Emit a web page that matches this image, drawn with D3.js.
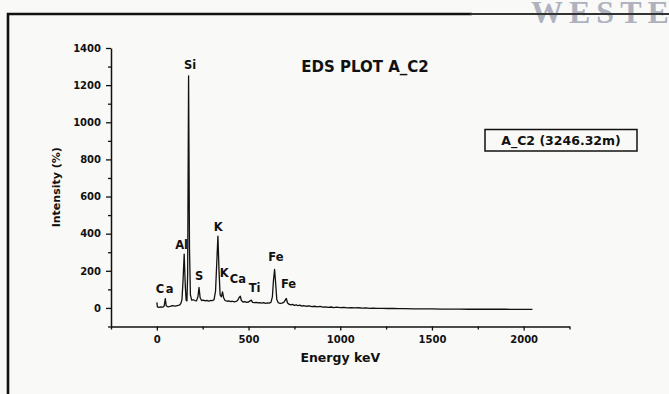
<!DOCTYPE html>
<html>
<head>
<meta charset="utf-8">
<script src="https://cdn.jsdelivr.net/npm/d3@7"></script>
<style>
  body { margin: 0; background: #f9f9f7; overflow: hidden; }
  text { font-family: "DejaVu Sans", sans-serif; font-weight: bold; fill: #111; }
</style>
</head>
<body>
<div id="chart"></div>
<script>
// Spectrum (channel / keV, intensity)
const energy = [0, 3, 12, 22, 32, 40, 46, 51, 60, 72, 85, 100, 112, 122, 130, 137, 143, 149, 155, 160,
  164, 168, 173, 178, 183, 190, 198, 208, 216, 224, 230, 236, 244, 254, 263, 272, 282, 292, 302, 312,
  320, 327, 333, 339, 345, 352, 358, 364, 372, 382, 392, 402, 412, 422, 432, 440, 448, 455, 461, 470,
  480, 490, 500, 508, 515, 522, 532, 542, 552, 562, 572, 582, 592, 602, 612, 622, 630, 636, 642, 648,
  654, 662, 672, 682, 692, 700, 706, 712, 720, 730, 740, 750, 760, 770, 780, 790, 800, 815, 830, 845,
  860, 875, 890, 905, 920, 935, 950, 965, 980, 1000, 1020, 1040, 1060, 1080, 1100, 1120, 1140, 1160, 1180, 1200,
  1230, 1260, 1290, 1320, 1350, 1400, 1450, 1500, 1550, 1600, 1650, 1700, 1750, 1800, 1850, 1900, 1950, 2000, 2048];
const intensity = [30, 6, 3, 5, 4, 10, 50, 12, 6, 8, 12, 10, 13, 15, 22, 45, 150, 290, 120, 40,
  38, 180, 1250, 320, 70, 42, 44, 40, 38, 60, 110, 55, 40, 42, 38, 41, 37, 40, 39, 45,
  90, 250, 387, 200, 70, 60, 86, 55, 40, 36, 38, 34, 36, 33, 35, 40, 55, 63, 40, 32,
  34, 30, 32, 38, 42, 30, 28, 30, 27, 29, 26, 28, 25, 27, 26, 30, 60, 150, 207, 130,
  45, 28, 24, 26, 30, 42, 51, 28, 20, 16, 19, 14, 17, 12, 15, 10, 13, 9, 11, 7,
  9, 6, 8, 4, 6, 3, 5, 2, 4, 2, 3, 0, 2, 0, 1, -1, 0, -2, -1, -2,
  -2, -3, -3, -4, -4, -5, -5, -5, -6, -6, -6, -7, -7, -7, -7, -7, -8, -8, -8];

// Element labels over the peaks (data units)
const peakNames = ["Si", "Al", "Ca", "S", "K", "K", "Ca", "Ti", "Fe", "Fe"];
const peakEnergy = [181, 135, 47, 231, 334, 367, 442, 533, 649, 718];
const peakLabelY = [1285, 316, 81, 149, 415, 164, 132, 86, 253, 105];

const xMajor = [0, 500, 1000, 1500, 2000];
const xMinor = [-250, 250, 750, 1250, 1750, 2250];
const yMajor = [0, 200, 400, 600, 800, 1000, 1200, 1400];
const yMinor = [-100, 100, 300, 500, 700, 900, 1100, 1300];

const title = "EDS PLOT A_C2";
const legendLabel = "A_C2 (3246.32m)";

const width = 669;
const height = 394;
const svg = d3.select("#chart").append("svg")
    .attr("width", width)
    .attr("height", height);

// faint watermark from the scanned page (cut by the page edge, as in the scan)
svg.append("text")
    .attr("x", 531)
    .attr("y", 23)
    .style("font-family", "'Liberation Serif', serif")
    .style("font-size", "32px")
    .style("letter-spacing", "6px")
    .style("fill", "#aeb2bf")
    .text("WESTE");

// page frame (top + left border)
svg.append("path")
    .attr("d", "M8,394V14H472")
    .attr("fill", "none")
    .attr("stroke", "#111")
    .attr("stroke-width", 2.6);
svg.append("line")
    .attr("x1", 470).attr("x2", 669)
    .attr("y1", 14).attr("y2", 14)
    .attr("stroke", "#333")
    .attr("stroke-width", 1.8);

const x = d3.scaleLinear().domain([-250, 2250]).range([111, 569.5]);
const y = d3.scaleLinear().domain([-100, 1400]).range([326.5, 48]);

// axes
const yAxis = svg.append("g")
    .attr("transform", `translate(${x(-250)},0)`)
    .call(d3.axisLeft(y).tickValues(yMajor).tickFormat(d3.format("d")).tickSize(5).tickPadding(5).tickSizeOuter(0));
svg.append("g")
    .attr("transform", `translate(${x(-250)},0)`)
    .call(d3.axisLeft(y).tickValues(yMinor).tickSize(3).tickFormat("").tickSizeOuter(0))
    .select(".domain").remove();

const xAxis = svg.append("g")
    .attr("transform", `translate(0,${y(-100)})`)
    .call(d3.axisBottom(x).tickValues(xMajor).tickFormat(d3.format("d")).tickSize(4).tickPadding(5).tickSizeOuter(0));
svg.append("g")
    .attr("transform", `translate(0,${y(-100)})`)
    .call(d3.axisBottom(x).tickValues(xMinor).tickSize(3).tickFormat("").tickSizeOuter(0))
    .select(".domain").remove();

svg.selectAll(".domain").attr("stroke", "#111").attr("stroke-width", 1.5);
svg.selectAll(".tick line").attr("stroke", "#111").attr("stroke-width", 1.3);
yAxis.selectAll("text").style("font-size", "10px").style("font-family", "'DejaVu Sans', sans-serif");
xAxis.selectAll("text").style("font-size", "10px").style("font-family", "'DejaVu Sans', sans-serif");

// spectrum line
const spectrum = energy.map((e, i) => [e, intensity[i]]);
svg.append("path")
    .datum(spectrum)
    .attr("fill", "none")
    .attr("stroke", "#111")
    .attr("stroke-width", 1.3)
    .attr("stroke-linejoin", "round")
    .attr("d", d3.line().x(d => x(d[0])).y(d => y(d[1])));

// peak labels
svg.append("g")
    .selectAll("text")
    .data(peakNames)
    .join("text")
    .attr("x", (d, i) => x(peakEnergy[i]))
    .attr("y", (d, i) => y(peakLabelY[i]))
    .attr("text-anchor", "middle")
    .style("font-size", "11.5px")
    .style("letter-spacing", (d, i) => i === 2 ? "1.5px" : null)
    .text(d => d);

// title
svg.append("text")
    .attr("x", 365)
    .attr("y", 72)
    .attr("text-anchor", "middle")
    .style("font-size", "15px")
    .text(title);

// legend box
svg.append("rect")
    .attr("x", 485).attr("y", 129.5)
    .attr("width", 152).attr("height", 21.5)
    .attr("fill", "none")
    .attr("stroke", "#111")
    .attr("stroke-width", 1.5);
svg.append("text")
    .attr("x", 561)
    .attr("y", 145)
    .attr("text-anchor", "middle")
    .style("font-size", "12.5px")
    .text(legendLabel);

// axis titles
svg.append("text")
    .attr("x", (x(-250) + x(2250)) / 2)
    .attr("y", 362)
    .attr("text-anchor", "middle")
    .style("font-size", "12.5px")
    .text("Energy keV");

svg.append("text")
    .attr("transform", `translate(60,${(y(1400) + y(-100)) / 2}) rotate(-90)`)
    .attr("text-anchor", "middle")
    .style("font-size", "11px")
    .text("Intensity (%)");

console.log("EDS plot rendered");
</script>
</body>
</html>
